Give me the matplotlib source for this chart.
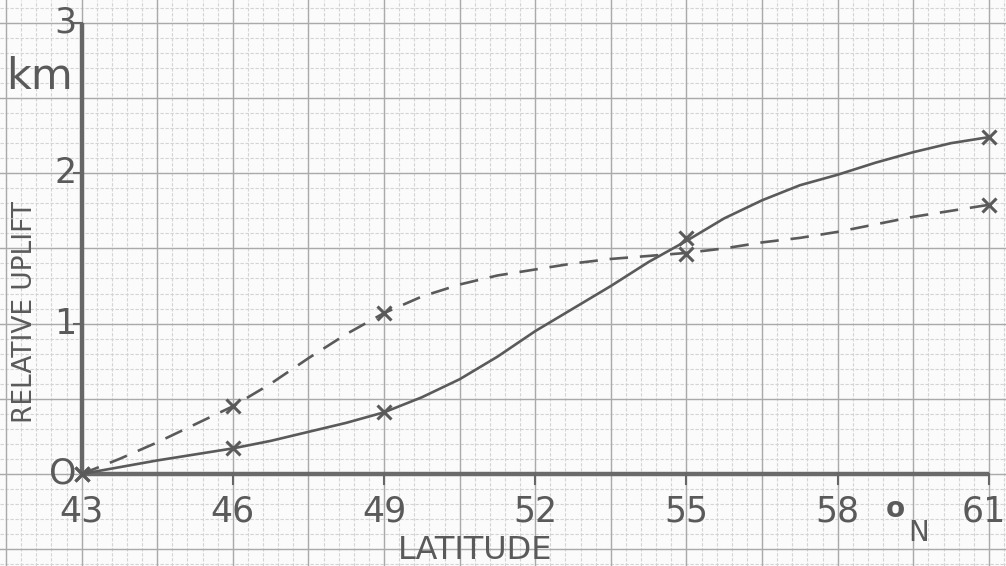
import numpy as np
import matplotlib
matplotlib.use("Agg")
import matplotlib.pyplot as plt

# stations where uplift was marked (x) on the two profiles
STATIONS = [43, 46, 49, 55, 61]
SOLID_MARKS = [0.0, 0.17, 0.41, 1.57, 2.24]
DASHED_MARKS = [0.0, 0.45, 1.07, 1.46, 1.79]

# hand drawn curves traced from the sheet
SOLID_LAT = [43, 43.75, 44.5, 45.25, 46, 46.75, 47.5, 48.25, 49, 49.75, 50.5,
             51.25, 52, 52.75, 53.5, 54.25, 55, 55.75, 56.5, 57.25, 58,
             58.75, 59.5, 60.25, 61]
SOLID_UP = [0.0, 0.045, 0.09, 0.13, 0.17, 0.22, 0.28, 0.34, 0.41, 0.51, 0.63,
            0.78, 0.95, 1.1, 1.25, 1.41, 1.55, 1.7, 1.82, 1.92, 1.99,
            2.07, 2.14, 2.2, 2.24]
DASHED_LAT = [43, 43.75, 44.5, 45.25, 46, 46.75, 47.5, 48.25, 49, 49.75, 50.5,
              51.25, 52, 52.75, 53.5, 54.25, 55, 55.75, 56.5, 57.25, 58,
              58.75, 59.5, 60.25, 61]
DASHED_UP = [0.0, 0.1, 0.21, 0.33, 0.45, 0.6, 0.77, 0.93, 1.07, 1.18, 1.26,
             1.32, 1.36, 1.4, 1.43, 1.45, 1.47, 1.5, 1.54, 1.57, 1.61,
             1.66, 1.71, 1.75, 1.79]

X_TICKS = [43, 46, 49, 52, 55, 58, 61]
Y_TICKS = [0, 1, 2, 3]
Y_TICK_LABELS = ["O", "1", "2", "3"]

INK = "#5a5a5a"
FONT = "DejaVu Sans"

fig = plt.figure(figsize=(10.06, 5.66), dpi=100)
fig.patch.set_facecolor("#fbfbfb")
ax = fig.add_axes([0, 0, 1, 1])
ax.set_facecolor("#fbfbfb")
ax.set_xlim(41.38, 61.34)
ax.set_ylim(-0.612, 3.152)
ax.axis("off")

# ---- graph paper ----
xmin, xmax = ax.get_xlim()
ymin, ymax = ax.get_ylim()
minor_x = np.arange(43 - 0.3 * 6, xmax + 0.01, 0.3)
minor_y = np.arange(-0.6, ymax + 0.01, 0.1)
for v in minor_x:
    ax.axvline(v, color="#d4d4d4", lw=0.8, ls=(0, (3, 1.5)), zorder=0)
for v in minor_y:
    ax.axhline(v, color="#d4d4d4", lw=0.8, ls=(0, (3, 1.5)), zorder=0)
for v in np.arange(43 - 1.5, xmax + 0.01, 1.5):
    ax.axvline(v, color="#aaaaaa", lw=1.0, zorder=0)
for v in np.arange(-0.5, ymax + 0.01, 0.5):
    ax.axhline(v, color="#aaaaaa", lw=1.0, zorder=0)

# ---- axes drawn by hand ----
ax.plot([43, 43], [0, 3], color="#666666", lw=3.2, solid_capstyle="butt", zorder=3)
ax.plot([43, 61], [0, 0], color="#6a6a6a", lw=3.2, solid_capstyle="butt", zorder=3)
for x in X_TICKS[1:]:
    ax.plot([x, x], [0, -0.07], color="#666666", lw=1.5, zorder=3)
for y in [1, 2, 3]:
    ax.plot([42.85, 43], [y, y], color="#666666", lw=1.5, zorder=3)

# ---- curves ----
ax.plot(SOLID_LAT, SOLID_UP, color=INK, lw=1.9, zorder=4,
        solid_joinstyle="round")
ax.plot(DASHED_LAT, DASHED_UP, color=INK, lw=1.9, ls=(0, (7, 4.5)), zorder=4)
ax.plot(STATIONS, SOLID_MARKS, ls="none", marker="x", ms=10, mew=2.2,
        color=INK, zorder=5)
ax.plot(STATIONS, DASHED_MARKS, ls="none", marker="x", ms=10, mew=2.2,
        color=INK, zorder=5)

# ---- lettering ----
for x in X_TICKS:
    xt = x if x < 61 else 60.9
    ax.text(xt, -0.25, str(x), ha="center", va="center", fontsize=25,
            color=INK, family=FONT)
for y, lab in zip(Y_TICKS, Y_TICK_LABELS):
    ax.text(42.9, y, lab, ha="right", va="center", fontsize=25,
            color=INK, family=FONT)

ax.text(42.17, 2.64, "km", ha="center", va="center", fontsize=31,
        color=INK, family=FONT)
ax.text(41.88, 1.08, "RELATIVE UPLIFT", ha="center", va="center",
        rotation=90, fontsize=19, color=INK, family=FONT)
ax.text(50.8, -0.51, "LATITUDE", ha="center", va="center", fontsize=23,
        color=INK, family=FONT)
ax.text(59.15, -0.23, "o", ha="center", va="center", fontsize=20,
        color=INK, family=FONT, fontweight="bold")
ax.text(59.6, -0.39, "N", ha="center", va="center", fontsize=20,
        color=INK, family=FONT)

fig.savefig("out.png", dpi=100, facecolor=fig.get_facecolor())
